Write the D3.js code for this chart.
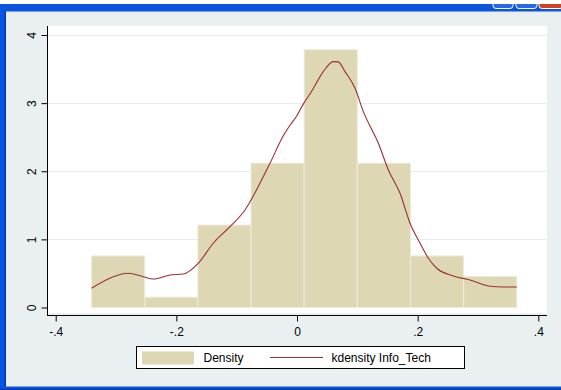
<!DOCTYPE html>
<html>
<head>
<meta charset="utf-8">
<script src="https://cdn.jsdelivr.net/npm/d3@7"></script>
<style>
  html, body { margin: 0; padding: 0; background: #eaf0f2; }
  svg { display: block; font-family: "Liberation Sans", Arial, sans-serif; }
</style>
</head>
<body>
<svg id="chart" width="561" height="390"></svg>
<script>
// Histogram bin edges of Info_Tech and the density of each bin
const binEdges = [-0.3405, -0.2524, -0.1643, -0.0762, 0.0119, 0.1000, 0.1881, 0.2762, 0.3643];
const binDensity = [0.757, 0.151, 1.21, 2.118, 3.783, 2.118, 0.757, 0.454];

// Kernel density estimate of Info_Tech
const kdeX = [-0.3405, -0.3046, -0.2797, -0.2549, -0.2383, -0.2106, -0.1886, -0.1637, -0.1388,
              -0.1111, -0.0862, -0.0614, -0.0448, -0.0227, -0.0116, -0.0005, 0.0104, 0.0244,
              0.0436, 0.0602, 0.0685, 0.0796, 0.0962, 0.1100, 0.1349, 0.1515, 0.1708, 0.1874,
              0.2040, 0.2177, 0.2317, 0.2592, 0.2869, 0.3172, 0.3421, 0.3643];
const kdeY = [0.282, 0.452, 0.502, 0.452, 0.418, 0.477, 0.492, 0.649, 0.943,
              1.187, 1.432, 1.824, 2.117, 2.520, 2.675, 2.810, 2.985, 3.175,
              3.463, 3.609, 3.605, 3.463, 3.219, 2.875, 2.411, 2.019, 1.677, 1.236,
              0.943, 0.722, 0.576, 0.463, 0.404, 0.316, 0.301, 0.301];

// Axis ticks
const xTicks = [-0.4, -0.2, 0, 0.2, 0.4];
const xTickLabels = ["-.4", "-.2", "0", ".2", ".4"];
const yTicks = [0, 1, 2, 3, 4];
const yTickLabels = ["0", "1", "2", "3", "4"];

const legendLabels = ["Density", "kdensity Info_Tech"];

const svg = d3.select("#chart");

// ---- window frame ----
svg.append("rect").attr("x", 0).attr("y", 0).attr("width", 561).attr("height", 390).attr("fill", "#eaf0f2");
svg.append("rect").attr("x", 0).attr("y", 4).attr("width", 561).attr("height", 7.5).attr("fill", "#0a55e0");
// caption buttons (bottom part visible)
const btns = [{x: 493, w: 20, c: "#2a66e8"}, {x: 516, w: 21, c: "#2a66e8"}, {x: 539, w: 24, c: "#d2401e"}];
svg.selectAll("rect.btn").data(btns).join("rect")
  .attr("class", "btn")
  .attr("x", d => d.x).attr("y", -10).attr("width", d => d.w).attr("height", 18.5)
  .attr("rx", 3).attr("fill", d => d.c).attr("stroke", "#ffffff").attr("stroke-width", 1);
svg.append("rect").attr("x", 0).attr("y", 0).attr("width", 561).attr("height", 4).attr("fill", "#ffffff");
svg.append("rect").attr("x", 0).attr("y", 4).attr("width", 6).attr("height", 386).attr("fill", "#0a55e0");
svg.append("rect").attr("x", 4.5).attr("y", 11).attr("width", 1.5).attr("height", 376).attr("fill", "#0838b8");
svg.append("rect").attr("x", 0).attr("y", 386.5).attr("width", 561).attr("height", 3.5).attr("fill", "#0a55e0");
svg.append("rect").attr("x", 0).attr("y", 388.5).attr("width", 561).attr("height", 1.5).attr("fill", "#0838b8");

// ---- scales ----
const x = d3.scaleLinear().domain([-0.4, 0.4]).range([55.7, 538.3]);
const y = d3.scaleLinear().domain([0, 4]).range([307.5, 35]);

// plot region
svg.append("rect").attr("x", 48).attr("y", 26).attr("width", 499).attr("height", 287).attr("fill", "#ffffff");

// horizontal grid lines
svg.selectAll("line.grid").data(yTicks.filter(v => v > 0)).join("line")
  .attr("class", "grid")
  .attr("x1", 48).attr("x2", 547)
  .attr("y1", d => Math.round(y(d)) + 0.5).attr("y2", d => Math.round(y(d)) + 0.5)
  .attr("stroke", "#e6eef0").attr("stroke-width", 1.2);

// histogram bars
const bins = binDensity.map((v, i) => ({x0: binEdges[i], x1: binEdges[i + 1], v}));
svg.selectAll("rect.bar").data(bins).join("rect")
  .attr("class", "bar")
  .attr("x", d => x(d.x0)).attr("width", d => x(d.x1) - x(d.x0))
  .attr("y", d => y(d.v)).attr("height", d => y(0) - y(d.v))
  .attr("fill", "#ddd7b3").attr("stroke", "#eeebd9").attr("stroke-width", 1);

// density curve
const kde = kdeX.map((v, i) => [v, kdeY[i]]);
svg.append("path").datum(kde)
  .attr("d", d3.line().x(d => x(d[0])).y(d => y(d[1])).curve(d3.curveMonotoneX))
  .attr("fill", "none").attr("stroke", "#9a2f35").attr("stroke-width", 1.1);

// ---- axes ----
const xAxis = d3.axisBottom(x).tickValues(xTicks).tickFormat((d, i) => xTickLabels[i])
  .tickSize(6).tickSizeOuter(0);
const gx = svg.append("g").attr("transform", "translate(0,315.5)").call(xAxis);
gx.select(".domain").remove();
gx.append("line").attr("x1", 47).attr("x2", 547).attr("y1", 0).attr("y2", 0).attr("stroke", "#000");
gx.selectAll(".tick line").attr("stroke", "#000");
gx.selectAll(".tick text").attr("font-size", 12).attr("fill", "#000").attr("y", 12).attr("dy", "0.71em")
  .attr("font-family", "Liberation Sans, Arial, sans-serif");

const yAxis = d3.axisLeft(y).tickValues(yTicks).tickFormat((d, i) => yTickLabels[i])
  .tickSize(6).tickSizeOuter(0);
const gy = svg.append("g").attr("transform", "translate(47.5,0)").call(yAxis);
gy.select(".domain").remove();
gy.append("line").attr("x1", 0).attr("x2", 0).attr("y1", 26).attr("y2", 315.5).attr("stroke", "#000");
gy.selectAll(".tick line").attr("stroke", "#000");
gy.selectAll(".tick text")
  .attr("x", null).attr("dy", null)
  .attr("transform", "translate(-12,0) rotate(-90)")
  .attr("text-anchor", "middle")
  .attr("font-size", 12).attr("fill", "#000")
  .attr("font-family", "Liberation Sans, Arial, sans-serif");

// ---- legend ----
const lg = svg.append("g");
lg.append("rect").attr("x", 136.5).attr("y", 346.5).attr("width", 328).attr("height", 22)
  .attr("fill", "#ffffff").attr("stroke", "#000").attr("stroke-width", 1);
lg.append("rect").attr("x", 142).attr("y", 351.5).attr("width", 52).attr("height", 13).attr("fill", "#ddd7b3");
lg.append("text").attr("x", 203.5).attr("y", 362).attr("font-size", 12).attr("fill", "#000").text(legendLabels[0]);
lg.append("line").attr("x1", 270).attr("x2", 323).attr("y1", 357.5).attr("y2", 357.5)
  .attr("stroke", "#9a2f35").attr("stroke-width", 1.1);
lg.append("text").attr("x", 331.5).attr("y", 362).attr("font-size", 12).attr("fill", "#000").text(legendLabels[1]);
</script>
</body>
</html>
